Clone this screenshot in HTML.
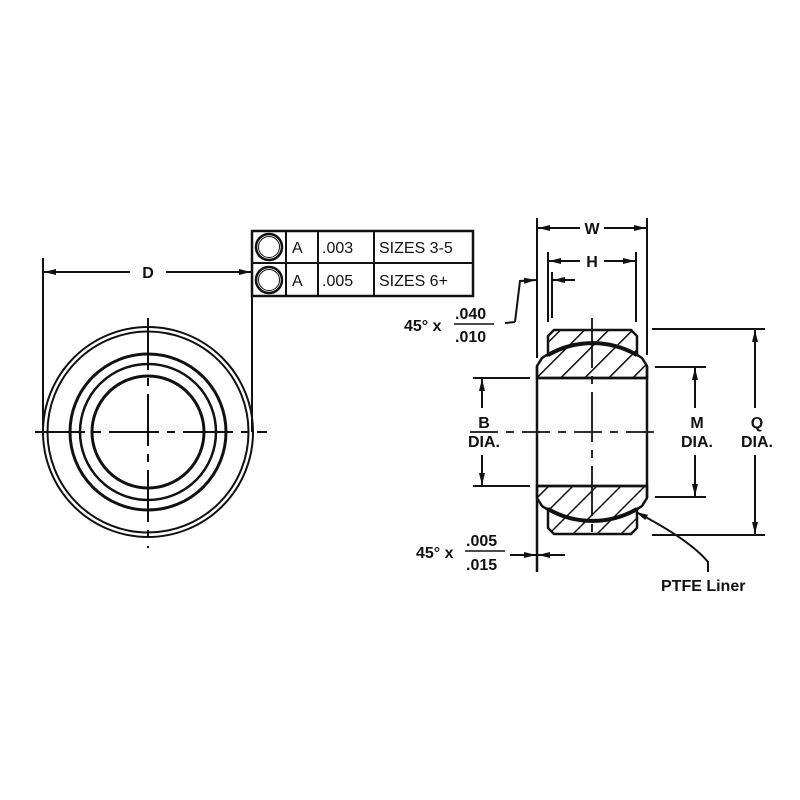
<!DOCTYPE html>
<html><head><meta charset="utf-8"><style>
html,body{margin:0;padding:0;background:#fff;}
svg{display:block;}
text{font-family:"Liberation Sans",Arial,sans-serif;fill:#111;}
</style></head><body>
<svg width="800" height="800" viewBox="0 0 800 800" xmlns="http://www.w3.org/2000/svg">
<defs>
<pattern id="h" patternUnits="userSpaceOnUse" width="17" height="17" patternTransform="rotate(45)">
<line x1="0" y1="0" x2="0" y2="17" stroke="#111" stroke-width="3"/>
</pattern>
<marker id="a" markerWidth="12" markerHeight="8" refX="12" refY="4" orient="auto" markerUnits="userSpaceOnUse">
<path d="M0,1 L12,4 L0,7 Z" fill="#111"/>
</marker>
</defs>
<g stroke="#111" fill="none" stroke-width="2">
<circle cx="148" cy="432" r="105"/>
<circle cx="148" cy="432" r="100.5"/>
<circle cx="148" cy="432" r="78" stroke-width="3"/>
<circle cx="148" cy="432" r="68" stroke-width="2.5"/>
<circle cx="148" cy="432" r="56" stroke-width="3"/>
<line x1="30" y1="432" x2="267" y2="432" stroke-dasharray="50,8,8,8" stroke-dashoffset="-5"/>
<line x1="148" y1="318" x2="148" y2="548" stroke-dasharray="52,8,8,8"/>
<line x1="43" y1="258" x2="43" y2="432"/>
<line x1="252" y1="232" x2="252" y2="432"/>
<line x1="130" y1="272" x2="44" y2="272" marker-end="url(#a)"/>
<line x1="166" y1="272" x2="251" y2="272" marker-end="url(#a)"/>
<rect x="252" y="231" width="221" height="65" stroke-width="2.5"/>
<line x1="252" y1="263" x2="473" y2="263"/>
<line x1="286" y1="231" x2="286" y2="296"/>
<line x1="318" y1="231" x2="318" y2="296"/>
<line x1="374" y1="231" x2="374" y2="296"/>
<circle cx="269" cy="247" r="13" stroke-width="2.5"/>
<circle cx="269" cy="247" r="10.5" stroke-width="1"/>
<circle cx="269" cy="280" r="13" stroke-width="2.5"/>
<circle cx="269" cy="280" r="10.5" stroke-width="1"/>

<path d="M548,355 L548,336 L554,330 L631,330 L637,336 L637,355 A89,89 0 0 0 548,355 Z" fill="url(#h)" stroke-width="2.5"/>
<path d="M537,378 L537,366 L542,358 A89,89 0 0 1 642,358 L647,366 L647,378 Z" fill="url(#h)" stroke-width="2.5"/>
<path d="M548,509 L548,528 L554,534 L631,534 L637,528 L637,509 A89,89 0 0 1 548,509 Z" fill="url(#h)" stroke-width="2.5"/>
<path d="M537,486 L537,498 L542,506 A89,89 0 0 0 642,506 L647,498 L647,486 Z" fill="url(#h)" stroke-width="2.5"/>
<path d="M548,355 A89,89 0 0 1 637,355" stroke-width="4"/>
<path d="M548,509 A89,89 0 0 0 637,509" stroke-width="4"/>
<line x1="537" y1="366" x2="537" y2="498" stroke-width="2.5"/>
<line x1="647" y1="366" x2="647" y2="498" stroke-width="2.5"/>
<line x1="537" y1="378" x2="647" y2="378" stroke-width="2.5"/>
<line x1="537" y1="486" x2="647" y2="486" stroke-width="2.5"/>
<line x1="470" y1="432" x2="662" y2="432" stroke-dasharray="28,8,8,8" stroke-width="1.8"/>
<line x1="592" y1="318" x2="592" y2="540" stroke-dasharray="50,8,8,8" stroke-width="1.8"/>
<line x1="537" y1="218" x2="537" y2="358"/>
<line x1="647" y1="218" x2="647" y2="355"/>
<line x1="580" y1="228" x2="538" y2="228" marker-end="url(#a)"/>
<line x1="604" y1="228" x2="646" y2="228" marker-end="url(#a)"/>
<line x1="548" y1="252" x2="548" y2="322"/>
<line x1="636" y1="252" x2="636" y2="322"/>
<line x1="580" y1="261" x2="549" y2="261" marker-end="url(#a)"/>
<line x1="604" y1="261" x2="635" y2="261" marker-end="url(#a)"/>
<line x1="552" y1="272" x2="552" y2="318"/>
<line x1="505" y1="323" x2="515" y2="322"/>
<polyline points="515,322 520,281 536,280" marker-end="url(#a)"/>
<line x1="575" y1="280" x2="553" y2="280" marker-end="url(#a)"/>
<line x1="473" y1="378" x2="530" y2="378"/>
<line x1="473" y1="486" x2="530" y2="486"/>
<line x1="482" y1="408" x2="482" y2="379" marker-end="url(#a)"/>
<line x1="482" y1="455" x2="482" y2="485" marker-end="url(#a)"/>
<line x1="655" y1="367" x2="706" y2="367"/>
<line x1="655" y1="497" x2="706" y2="497"/>
<line x1="695" y1="408" x2="695" y2="368" marker-end="url(#a)"/>
<line x1="695" y1="455" x2="695" y2="496" marker-end="url(#a)"/>
<line x1="652" y1="329" x2="765" y2="329"/>
<line x1="652" y1="535" x2="765" y2="535"/>
<line x1="755" y1="408" x2="755" y2="330" marker-end="url(#a)"/>
<line x1="755" y1="455" x2="755" y2="534" marker-end="url(#a)"/>
<line x1="537" y1="498" x2="537" y2="572" stroke-width="2.5"/>
<line x1="510" y1="555" x2="536" y2="555" marker-end="url(#a)"/>
<line x1="565" y1="555" x2="538" y2="555" marker-end="url(#a)"/>
<path d="M708,572 L708,562 Q690,540 636,512" stroke-width="2" marker-end="url(#a)"/>
</g>
<g font-size="16">
<text x="292" y="253">A</text>
<text x="322" y="253">.003</text>
<text x="379" y="253">SIZES 3-5</text>
<text x="292" y="286">A</text>
<text x="322" y="286">.005</text>
<text x="379" y="286">SIZES 6+</text>
</g>
<g font-weight="bold" font-size="16" text-anchor="middle">
<text x="148" y="278">D</text>
<text x="592" y="234">W</text>
<text x="592" y="267">H</text>
<text x="484" y="428">B</text>
<text x="484" y="447">DIA.</text>
<text x="697" y="428">M</text>
<text x="697" y="447">DIA.</text>
<text x="757" y="428">Q</text>
<text x="757" y="447">DIA.</text>
</g>
<g font-weight="bold" font-size="16">
<text x="404" y="331">45° x</text>
<text x="455" y="319">.040</text>
<line x1="454" y1="324" x2="494" y2="324" stroke="#111" stroke-width="1.5"/>
<text x="455" y="342">.010</text>
<text x="416" y="558">45° x</text>
<text x="466" y="546">.005</text>
<line x1="465" y1="551" x2="505" y2="551" stroke="#111" stroke-width="1.5"/>
<text x="466" y="570">.015</text>
<text x="661" y="591">PTFE Liner</text>
</g>
</svg>
</body></html>
